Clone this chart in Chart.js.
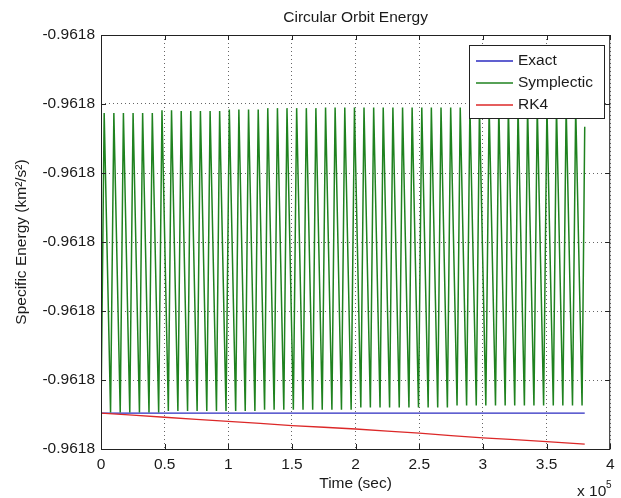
<!DOCTYPE html>
<html>
<head>
  <meta http-equiv="Content-Type" content="text/html" charset="UTF-8" />
  <title>Circular Orbit Energy</title>
  <script src="https://cdn.jsdelivr.net/npm/chart.js"></script>
  <style>
    body {
      margin: 0;
      background: white;
    }
  </style>
</head>
<body>
  <canvas id="chart" width="621" height="498"></canvas>

  <script>
    // time in units of 1e5 sec, energy in km^2/s^2
    const xTicks = [0, 0.5, 1, 1.5, 2, 2.5, 3, 3.5, 4];
    const yTicks = [-0.96183, -0.96182, -0.96181, -0.9618, -0.96179, -0.96178, -0.96177];

    const exactTime = [0, 3.8];
    const exactEnergy = [-0.9618248, -0.9618248];

    const rk4Time = [0, 0.25, 0.5, 0.75, 1.0, 1.25, 1.5, 1.75, 2.0, 2.25, 2.5, 2.75, 3.0, 3.25, 3.5, 3.65, 3.8];
    const rk4Energy = [-0.9618248, -0.9618251, -0.9618254, -0.9618257, -0.9618260, -0.9618263, -0.9618266,
      -0.96182685, -0.9618271, -0.9618274, -0.9618277, -0.96182805, -0.9618284, -0.96182865, -0.96182894,
      -0.9618291, -0.9618293];

    const symStartEnergy = -0.9618248;
    const symPeakTime = [0.025, 0.101, 0.176, 0.252, 0.327, 0.403, 0.479, 0.554, 0.630, 0.705,
      0.781, 0.857, 0.932, 1.008, 1.083, 1.159, 1.235, 1.310, 1.386, 1.461,
      1.537, 1.613, 1.688, 1.764, 1.839, 1.915, 1.991, 2.066, 2.142, 2.217,
      2.293, 2.369, 2.444, 2.520, 2.595, 2.671, 2.747, 2.822, 2.898, 2.973,
      3.049, 3.125, 3.200, 3.276, 3.351, 3.427, 3.503, 3.578, 3.654, 3.729, 3.800];
    const symPeakEnergy = [-0.9617813, -0.9617813, -0.9617813, -0.9617813, -0.9617813, -0.9617813,
      -0.9617809, -0.9617809,
      -0.9617810, -0.9617810, -0.9617810, -0.9617810, -0.9617810,
      -0.9617808, -0.9617808, -0.9617808, -0.9617808,
      -0.9617806, -0.9617806, -0.9617806, -0.9617806, -0.9617806, -0.9617806,
      -0.9617805, -0.9617805, -0.9617805, -0.9617805, -0.9617805, -0.9617805, -0.9617805, -0.9617805,
      -0.9617805, -0.9617805, -0.9617805, -0.9617805, -0.9617805, -0.9617805, -0.9617805,
      -0.9617804, -0.9617804, -0.9617804, -0.9617804, -0.9617804, -0.9617804, -0.9617804, -0.9617804,
      -0.9617804, -0.9617804, -0.9617804, -0.9617804,
      -0.9617833];
    const symTroughTime = [0.075, 0.151, 0.226, 0.302, 0.377, 0.453, 0.529, 0.604, 0.680, 0.755,
      0.831, 0.907, 0.982, 1.058, 1.133, 1.209, 1.285, 1.360, 1.436, 1.511,
      1.587, 1.663, 1.738, 1.814, 1.889, 1.965, 2.041, 2.116, 2.192, 2.267,
      2.343, 2.419, 2.494, 2.570, 2.645, 2.721, 2.797, 2.872, 2.948, 3.023,
      3.099, 3.175, 3.250, 3.326, 3.401, 3.477, 3.553, 3.628, 3.704, 3.779];
    const symTroughEnergy = [-0.9618247, -0.9618247, -0.9618247, -0.9618247, -0.9618247, -0.9618247,
      -0.9618245, -0.9618245, -0.9618245, -0.9618245, -0.9618245, -0.9618245, -0.9618245, -0.9618245, -0.9618245, -0.9618245,
      -0.9618243, -0.9618243, -0.9618243, -0.9618243, -0.9618243, -0.9618243, -0.9618243, -0.9618243, -0.9618243, -0.9618243,
      -0.9618240, -0.9618240, -0.9618240, -0.9618240, -0.9618240, -0.9618240, -0.9618240, -0.9618240, -0.9618240, -0.9618240,
      -0.9618237, -0.9618237, -0.9618237, -0.9618237, -0.9618237, -0.9618237, -0.9618237, -0.9618237, -0.9618237, -0.9618237,
      -0.9618237, -0.9618237, -0.9618237, -0.9618237];

    function pairs(xs, ys) {
      return xs.map((x, i) => ({ x: x, y: ys[i] }));
    }

    const symPoints = [{ x: 0, y: symStartEnergy }];
    for (let k = 0; k < symPeakTime.length; k++) {
      symPoints.push({ x: symPeakTime[k], y: symPeakEnergy[k] });
      if (k < symTroughTime.length) {
        symPoints.push({ x: symTroughTime[k], y: symTroughEnergy[k] });
      }
    }

    const FONT = "'Liberation Sans', Arial, sans-serif";
    const FS = 15.5;
    Chart.defaults.font.family = FONT;
    Chart.defaults.font.size = FS;
    Chart.defaults.color = '#1a1a1a';

    const COLORS = { exact: '#2b2bc0', sym: '#1f821f', rk4: '#dc2828' };

    // box, inward ticks, title, legend and exponent, MATLAB style
    const matlabDecor = {
      id: 'matlabDecor',
      afterDraw(chart) {
        const ctx = chart.ctx;
        const a = chart.chartArea;
        const xs = chart.scales.x, ys = chart.scales.y;
        ctx.save();
        ctx.strokeStyle = '#222';
        ctx.lineWidth = 1;
        ctx.strokeRect(a.left + 0.5, a.top + 0.5, a.right - a.left - 1, a.bottom - a.top);

        ctx.beginPath();
        xs.ticks.forEach(t => {
          const px = Math.round(xs.getPixelForValue(t.value)) + 0.5;
          ctx.moveTo(px, a.bottom); ctx.lineTo(px, a.bottom - 5);
          ctx.moveTo(px, a.top); ctx.lineTo(px, a.top + 5);
        });
        ys.ticks.forEach(t => {
          const py = Math.round(ys.getPixelForValue(t.value)) + 0.5;
          ctx.moveTo(a.left, py); ctx.lineTo(a.left + 5, py);
          ctx.moveTo(a.right, py); ctx.lineTo(a.right - 5, py);
        });
        ctx.stroke();

        ctx.fillStyle = '#1a1a1a';
        ctx.font = FS + 'px ' + FONT;
        ctx.textAlign = 'center';
        ctx.textBaseline = 'middle';
        ctx.fillText('Circular Orbit Energy', (a.left + a.right) / 2, 18);

        ctx.textAlign = 'left';
        ctx.fillText('x 10', 577, 492);
        ctx.font = '10px ' + FONT;
        ctx.fillText('5', 606, 485);

        // legend
        const lx = 469, ly = 45, lw = 135, lh = 73;
        ctx.fillStyle = '#fff';
        ctx.fillRect(lx, ly, lw, lh);
        ctx.strokeStyle = '#222';
        ctx.lineWidth = 1;
        ctx.strokeRect(lx + 0.5, ly + 0.5, lw, lh);
        ctx.font = FS + 'px ' + FONT;
        chart.data.datasets.forEach((ds, i) => {
          const y = 61 + i * 22;
          ctx.strokeStyle = ds.borderColor;
          ctx.lineWidth = 1.5;
          ctx.beginPath();
          ctx.moveTo(476, y); ctx.lineTo(513, y);
          ctx.stroke();
          ctx.fillStyle = '#1a1a1a';
          ctx.fillText(ds.label, 518, y);
        });
        ctx.restore();
      }
    };

    const ctx = document.getElementById('chart').getContext('2d');
    new Chart(ctx, {
      type: 'line',
      data: {
        datasets: [{
          label: 'Exact',
          data: pairs(exactTime, exactEnergy),
          borderColor: COLORS.exact,
          borderWidth: 1.2,
          pointRadius: 0,
          order: 3
        }, {
          label: 'Symplectic',
          data: symPoints,
          borderColor: COLORS.sym,
          borderWidth: 1.5,
          pointRadius: 0,
          order: 2
        }, {
          label: 'RK4',
          data: pairs(rk4Time, rk4Energy),
          borderColor: COLORS.rk4,
          borderWidth: 1.3,
          pointRadius: 0,
          order: 1
        }]
      },
      options: {
        responsive: false,
        animation: false,
        layout: { padding: { top: 35, right: 6, left: 0, bottom: 0 } },
        plugins: {
          legend: { display: false },
          tooltip: { enabled: false }
        },
        scales: {
          x: {
            type: 'linear',
            min: xTicks[0],
            max: xTicks[xTicks.length - 1],
            afterBuildTicks: (s) => { s.ticks = xTicks.map(v => ({ value: v })); },
            afterFit: (s) => { s.height = 49; },
            ticks: { padding: 6.5, maxRotation: 0, callback: (v) => String(v) },
            grid: { color: 'rgba(0,0,0,0.6)', drawTicks: false },
            border: { display: false, dash: [1, 3] },
            title: { display: true, text: 'Time (sec)', padding: { top: 0, bottom: 4.7 } }
          },
          y: {
            type: 'linear',
            min: yTicks[0],
            max: yTicks[yTicks.length - 1],
            afterBuildTicks: (s) => { s.ticks = yTicks.map(v => ({ value: v })); },
            afterFit: (s) => { s.width = 101; },
            ticks: { padding: 6, callback: (v) => v.toFixed(4) },
            grid: { color: 'rgba(0,0,0,0.6)', drawTicks: false },
            border: { display: false, dash: [1, 3] },
            title: { display: true, text: 'Specific Energy (km²/s²)', padding: { top: 12, bottom: 0 } }
          }
        }
      },
      plugins: [matlabDecor]
    });
  </script>
</body>
</html>
